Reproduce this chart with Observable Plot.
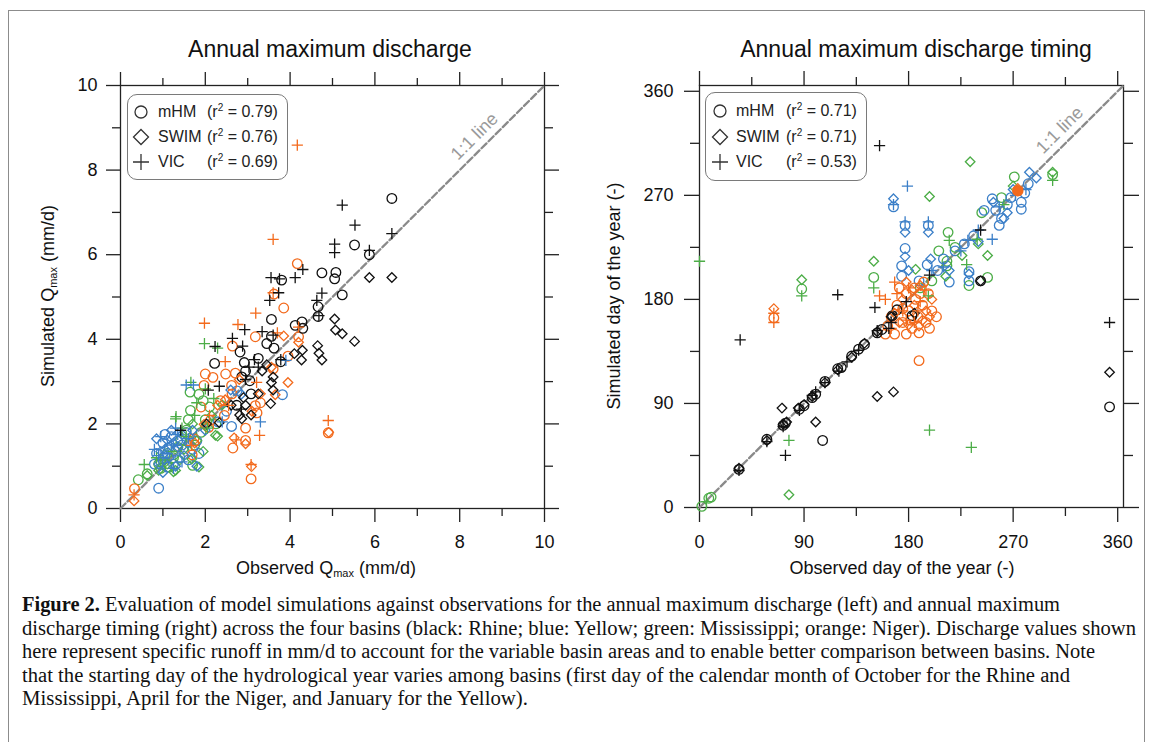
<!DOCTYPE html>
<html>
<head>
<meta charset="utf-8">
<script src="https://cdn.jsdelivr.net/npm/d3@7"></script>
<script src="https://cdn.jsdelivr.net/npm/@observablehq/plot@0.6"></script>
<style>
  body { margin: 0; background: #fff; }
  #wrap { position: relative; width: 1153px; height: 742px; overflow: hidden; font-family: "Liberation Sans", Arial, sans-serif; color: #111; }
  #border { position: absolute; left: 8px; top: 10px; width: 1137px; height: 760px; border: 1.5px solid #8c8c8c; box-sizing: border-box; }
  .panel { position: absolute; top: 0; }
  .title { position: absolute; font-size: 23px; white-space: nowrap; transform: translate(-50%, -50%); }
  .axlab { position: absolute; font-size: 18px; white-space: nowrap; transform: translate(-50%, -50%); }
  .axlab.v { transform: translate(-50%, -50%) rotate(-90deg); }
  .axlab sub { font-size: 11px; vertical-align: -3px; }
  .legend { position: absolute; border: 1.3px solid #7a7a7a; border-radius: 10px; background: #fff; box-sizing: border-box; }
  .legend .sym { position: absolute; }
  .legend .t { position: absolute; font-size: 16px; white-space: nowrap; transform: translateY(-50%); color: #222; }
  .legend sup { font-size: 10px; vertical-align: 6px; line-height: 0; }
  #cap { position: absolute; left: 0; top: 0; }
</style>
</head>
<body>
<div id="wrap">
  <div id="border"></div>
</div>
<script>
// ---------------- Data: Annual maximum discharge (mm/d), pairs [observed, simulated] ----------------
const qRhineMhm = [[6.40,7.33],[5.52,6.23],[5.87,6.00],[4.75,5.57],[5.08,5.58],[5.05,5.43],[5.23,5.05],[4.66,4.77],[4.66,4.54],[3.80,5.40],[3.56,4.47],[4.28,4.41],[4.30,4.26],[4.12,4.33],[3.56,4.07],[3.62,3.79],[2.22,3.43],[2.82,3.70],[2.92,3.45],[3.05,3.02],[2.86,3.11],[3.08,2.71],[3.78,3.47],[2.74,2.44],[3.25,3.55],[2.95,3.25],[3.45,3.90]];
const qRhineSwim = [[6.40,5.46],[5.87,5.46],[5.05,4.48],[5.07,4.22],[5.23,4.13],[5.52,3.95],[4.65,3.85],[4.68,3.67],[4.75,3.51],[4.29,3.74],[4.27,3.51],[4.10,3.66],[3.60,3.11],[3.56,2.98],[3.60,2.80],[3.54,2.48],[3.25,2.71],[3.34,3.25],[2.90,2.62],[2.95,2.44],[2.81,2.21],[3.08,2.21],[2.86,2.12],[2.33,2.03],[2.03,2.00],[2.61,2.44],[3.45,3.40]];
const qRhineVic = [[5.23,7.17],[5.53,6.70],[6.40,6.50],[5.05,6.25],[5.05,6.05],[5.87,6.10],[4.30,5.65],[4.12,5.46],[3.55,5.46],[3.75,5.43],[3.73,5.10],[3.52,4.92],[4.75,5.09],[4.63,4.92],[2.93,4.23],[3.34,4.18],[2.64,4.02],[2.23,3.83],[2.88,3.84],[3.16,3.52],[3.03,3.34],[2.07,2.80],[2.33,2.89],[3.78,3.52],[1.42,1.85],[3.25,3.34],[4.68,4.56],[2.95,3.05],[2.85,2.35],[3.60,4.10]];

const qYellowMhm = [[0.90,0.48],[0.85,1.30],[0.95,1.10],[1.00,1.55],[1.05,1.25],[1.10,0.98],[1.15,1.45],[1.20,1.70],[1.25,1.05],[1.30,1.35],[1.35,1.60],[1.40,1.20],[1.45,1.50],[1.55,1.80],[1.60,1.15],[1.70,1.40],[1.80,1.60],[1.05,1.75],[2.62,1.94],[2.75,2.78],[3.82,2.69],[2.30,2.05],[1.85,1.30],[0.80,1.05],[2.50,2.30]];
const qYellowSwim = [[0.85,1.65],[0.95,1.35],[1.00,0.85],[1.10,1.62],[1.15,1.20],[1.20,1.85],[1.30,1.00],[1.35,1.45],[1.45,1.75],[1.50,1.25],[1.60,1.55],[1.70,1.85],[0.90,1.05],[1.25,1.55],[2.00,1.85],[2.60,2.80],[2.85,2.70],[1.80,1.00],[1.05,1.40]];
const qYellowVic = [[1.55,2.92],[1.72,2.92],[0.80,1.40],[0.95,1.70],[1.10,1.30],[1.20,1.50],[1.35,1.75],[1.45,1.10],[1.00,1.20],[1.60,1.65],[1.30,1.90],[3.30,2.05],[3.90,3.50],[2.40,2.05],[0.90,1.25],[1.25,0.95]];

const qMissMhm = [[0.42,0.68],[0.63,0.82],[0.90,1.05],[1.02,1.10],[0.95,0.95],[1.10,1.30],[1.25,1.20],[1.42,1.62],[1.55,1.85],[1.65,2.32],[1.64,2.75],[1.85,2.70],[1.70,1.02],[1.75,1.50],[1.90,1.80],[2.00,2.10],[2.10,2.40],[2.25,2.00],[1.35,1.45],[1.60,2.10],[1.95,2.55],[1.15,0.98]];
const qMissSwim = [[0.63,0.78],[0.90,0.90],[1.25,0.87],[1.30,0.90],[1.68,1.17],[1.85,0.98],[2.29,1.71],[2.24,1.73],[1.50,1.40],[1.80,1.60],[2.00,1.95],[1.40,1.15],[1.10,1.05],[2.15,2.20],[1.70,2.00],[2.40,2.45],[1.95,1.35]];
const qMissVic = [[0.56,1.04],[1.31,2.17],[1.98,3.90],[2.29,3.79],[1.66,2.98],[2.00,2.83],[1.30,2.12],[1.80,2.50],[1.55,1.70],[1.20,1.35],[0.95,1.15],[2.20,2.60],[1.75,2.20],[1.45,1.90],[2.05,1.90],[0.85,1.20]];

const qNigerMhm = [[4.17,5.79],[3.85,4.74],[3.62,5.07],[3.18,4.06],[2.64,3.84],[2.00,3.18],[2.18,3.10],[2.48,3.18],[2.71,3.20],[1.97,2.91],[2.62,2.91],[2.63,2.71],[2.36,2.55],[3.18,2.43],[3.22,2.26],[2.95,1.90],[2.65,1.43],[2.95,1.61],[3.08,0.70],[4.90,1.79],[0.33,0.47],[4.20,4.06],[1.73,1.65],[1.69,1.27],[2.12,2.08],[2.08,1.92],[3.60,3.30],[3.95,3.60],[3.30,2.50],[2.45,2.20],[1.90,2.40]];
const qNigerSwim = [[3.85,4.08],[3.95,2.98],[3.65,2.69],[3.30,2.71],[3.09,0.99],[2.95,1.53],[2.68,1.67],[0.32,0.18],[4.91,1.80],[4.20,3.93],[1.97,1.99],[2.47,2.57],[3.56,3.34],[2.29,2.44],[3.10,2.30],[2.80,3.05],[1.75,1.55]];
const qNigerVic = [[4.17,8.59],[3.60,6.36],[3.60,5.10],[3.19,4.62],[1.98,4.38],[2.77,4.35],[3.28,1.73],[4.90,2.08],[2.47,3.47],[2.55,2.44],[2.73,1.62],[3.08,1.04],[0.32,0.32],[4.20,4.29],[1.68,1.49],[3.21,2.98],[2.10,2.20],[3.70,4.15]];

// ---------------- Data: Annual maximum discharge timing (day of year), pairs [observed, simulated] ----------------
const tRhineMhm = [[34,33],[58,59],[72,71],[74,73],[86,85],[90,88],[97,95],[100,98],[108,109],[119,120],[122,121],[131,131],[137,137],[142,141],[153,151],[157,154],[166,166],[183,166],[242,196],[353,87],[106,58],[170,171]];
const tRhineSwim = [[34,34],[58,58],[71,86],[72,72],[85,86],[90,89],[97,96],[100,74],[108,108],[119,119],[131,130],[142,142],[153,96],[153,152],[167,100],[353,117],[165,165],[242,196],[185,168],[75,74]];
const tRhineVic = [[155,313],[119,184],[35,145],[74,45],[151,173],[353,160],[242,240],[198,201],[165,160],[34,32],[58,57],[72,70],[86,84],[97,97],[108,108],[120,118],[137,136],[153,153],[178,178],[163,155],[100,100],[127,126]];

const tYellowMhm = [[167,260],[177,244],[197,244],[177,224],[174,209],[189,196],[215,195],[232,196],[252,267],[255,257],[258,244],[277,264],[277,258],[245,257],[196,210],[205,205],[210,215],[220,222],[228,228],[236,235],[265,262],[268,268],[280,272],[283,280],[260,250],[174,200],[232,204]];
const tYellowSwim = [[167,267],[177,238],[197,238],[177,217],[199,215],[232,202],[284,290],[265,255],[253,264],[262,250],[240,230],[215,205],[180,205],[270,275],[290,285]];
const tYellowVic = [[179,278],[177,247],[197,247],[167,262],[252,232],[231,231],[240,240],[200,205],[225,222],[258,260],[272,270],[210,208],[281,275]];

const tMissMhm = [[2,1],[8,8],[10,9],[88,189],[150,199],[214,238],[206,222],[213,213],[213,209],[248,199],[232,192],[243,255],[271,286],[304,288],[220,225],[260,268],[190,190],[200,196]];
const tMissSwim = [[77,11],[88,197],[150,213],[198,269],[233,299],[248,218],[186,206],[304,290],[226,218],[212,200],[240,228],[270,278]];
const tMissVic = [[0,213],[77,58],[88,183],[150,190],[197,183],[198,67],[234,52],[215,231],[239,232],[304,283],[6,5],[230,210],[262,262]];

const tNigerMhm = [[64,164],[189,127],[189,151],[162,157],[165,165],[170,175],[175,160],[178,185],[180,170],[183,155],[185,190],[188,165],[192,175],[195,160],[197,185],[200,170],[168,150],[172,190],[178,150],[186,180],[193,195],[198,155],[175,172],[182,162],[190,185],[160,150],[204,165]];
const tNigerMhmFilled = [[274,274]];
const tNigerSwim = [[64,172],[189,157],[168,168],[175,180],[180,158],[185,175],[190,192],[195,170],[200,180],[172,160],[183,188],[192,162],[178,195],[198,165],[274,276]];
const tNigerVic = [[64,160],[160,180],[165,155],[170,185],[175,170],[180,190],[185,160],[190,178],[195,188],[178,162],[168,195],[188,170],[155,183],[64,168]];

// ---------------- Labels ----------------
const basins = ["Mississippi", "Yellow", "Niger", "Rhine"];
const basinColors = ["#4cad47", "#3b7fc8", "#f36a1c", "#111111"];
const models = ["mHM", "SWIM", "VIC"];
const modelSymbols = ["circle", "diamond2", "plus"];
const modelRadius = [4.8, 4.3, 3.7];
const qR2 = ["0.79", "0.76", "0.69"];
const tR2 = ["0.71", "0.71", "0.53"];
const qTicksMajor = [0, 2, 4, 6, 8, 10];
const qTicksMinor = [1, 3, 5, 7, 9];
const tTicksMajor = [0, 90, 180, 270, 360];
const tTicksMinor = [45, 135, 225, 315];

function rows(pairs, basin, model) { return pairs.map(([obs, sim]) => ({obs, sim, basin, model})); }

const qData = [
  ...rows(qMissMhm, "Mississippi", "mHM"), ...rows(qMissSwim, "Mississippi", "SWIM"), ...rows(qMissVic, "Mississippi", "VIC"),
  ...rows(qYellowMhm, "Yellow", "mHM"), ...rows(qYellowSwim, "Yellow", "SWIM"), ...rows(qYellowVic, "Yellow", "VIC"),
  ...rows(qNigerMhm, "Niger", "mHM"), ...rows(qNigerSwim, "Niger", "SWIM"), ...rows(qNigerVic, "Niger", "VIC"),
  ...rows(qRhineMhm, "Rhine", "mHM"), ...rows(qRhineSwim, "Rhine", "SWIM"), ...rows(qRhineVic, "Rhine", "VIC")
];
const tData = [
  ...rows(tMissMhm, "Mississippi", "mHM"), ...rows(tMissSwim, "Mississippi", "SWIM"), ...rows(tMissVic, "Mississippi", "VIC"),
  ...rows(tYellowMhm, "Yellow", "mHM"), ...rows(tYellowSwim, "Yellow", "SWIM"), ...rows(tYellowVic, "Yellow", "VIC"),
  ...rows(tNigerMhm, "Niger", "mHM"), ...rows(tNigerSwim, "Niger", "SWIM"), ...rows(tNigerVic, "Niger", "VIC"),
  ...rows(tRhineMhm, "Rhine", "mHM"), ...rows(tRhineSwim, "Rhine", "SWIM"), ...rows(tRhineVic, "Rhine", "VIC")
];
const tFilled = rows(tNigerMhmFilled, "Niger", "mHM");

const wrap = document.getElementById("wrap");

function makePanel(cfg) {
  const {data, filled, dmax, major, minor, left, width, mL, mR, mT, mB, tickMaj, tickMin, padY, labelAt} = cfg;
  const tickStyle = {stroke: "#222", strokeWidth: 1.3, label: null};
  const empty = () => "";
  const marks = [
    Plot.frame({stroke: "#222", strokeWidth: 1.3}),
    Plot.axisX({...tickStyle, anchor: "bottom", ticks: major, tickSize: tickMaj, tickPadding: 13, fontSize: 18}),
    Plot.axisX({...tickStyle, anchor: "bottom", ticks: minor, tickSize: tickMin, tickFormat: empty}),
    Plot.axisX({...tickStyle, anchor: "top", ticks: major, tickSize: tickMaj, tickFormat: empty}),
    Plot.axisX({...tickStyle, anchor: "top", ticks: minor, tickSize: tickMin, tickFormat: empty}),
    Plot.axisY({...tickStyle, anchor: "left", ticks: major, tickSize: tickMaj, tickPadding: padY, fontSize: 18}),
    Plot.axisY({...tickStyle, anchor: "left", ticks: minor, tickSize: tickMin, tickFormat: empty}),
    Plot.axisY({...tickStyle, anchor: "right", ticks: major, tickSize: tickMaj, tickFormat: empty}),
    Plot.axisY({...tickStyle, anchor: "right", ticks: minor, tickSize: tickMin, tickFormat: empty}),
    Plot.line([0, dmax], {x: d => d, y: d => d, stroke: "#8a8a8a", strokeWidth: 2.3, strokeDasharray: "7,3"}),
    Plot.text([labelAt], {x: d => d, y: d => d, text: () => "1:1 line", rotate: -45, dy: -19, fill: "#9a9a9a", fontSize: 18, fontFamily: "'Liberation Sans', Arial, sans-serif"})
  ];
  models.forEach((m, i) => {
    marks.push(Plot.dot(data.filter(d => d.model === m), {
      x: "obs", y: "sim", stroke: "basin", symbol: () => m, r: modelRadius[i], strokeWidth: 1.3, fill: "none"
    }));
  });
  if (filled) marks.push(Plot.dot(filled, {x: "obs", y: "sim", fill: "basin", stroke: "basin", r: 5, symbol: () => "mHM"}));
  const svg = Plot.plot({
    width, height: 600,
    marginLeft: mL, marginRight: mR, marginTop: mT, marginBottom: mB,
    x: {domain: [0, dmax]},
    y: {domain: [0, dmax]},
    color: {domain: basins, range: basinColors},
    symbol: {domain: models, range: modelSymbols},
    style: {background: "transparent", fontFamily: "'Liberation Sans', Arial, sans-serif", fontSize: "18px", color: "#111", overflow: "visible"},
    marks
  });
  svg.classList.add("panel");
  svg.style.left = left + "px";
  svg.style.position = "absolute";
  svg.style.top = "0px";
  wrap.appendChild(svg);
}

makePanel({data: qData, dmax: 10, major: qTicksMajor, minor: qTicksMinor, left: 0, width: 580, mL: 120, mR: 36, mT: 85, mB: 92, tickMaj: 14, tickMin: 8, padY: 9, labelAt: 8.35});
makePanel({data: tData, filled: tFilled, dmax: 365, major: tTicksMajor, minor: tTicksMinor, left: 580, width: 573, mL: 119, mR: 30, mT: 85, mB: 93, tickMaj: 15, tickMin: 9, padY: 11, labelAt: 310});

// ---------------- Titles and axis labels ----------------
function addDiv(cls, html, x, y) {
  const d = document.createElement("div");
  d.className = cls; d.innerHTML = html;
  d.style.left = x + "px"; d.style.top = y + "px";
  wrap.appendChild(d);
  return d;
}
addDiv("title", "Annual maximum discharge", 330, 49);
addDiv("title", "Annual maximum discharge timing", 916, 49);
addDiv("axlab", "Observed Q<sub>max</sub> (mm/d)", 326, 568);
addDiv("axlab v", "Simulated Q<sub>max</sub> (mm/d)", 48, 296);
addDiv("axlab", "Observed day of the year (-)", 902, 568);
addDiv("axlab v", "Simulated day of the year (-)", 614, 296);

// ---------------- Legends ----------------
const symSvg = {
  circle: '<circle cx="9" cy="9" r="6" fill="none" stroke="#333" stroke-width="1.3"/>',
  diamond2: '<path d="M9,1.5L16.5,9L9,16.5L1.5,9Z" fill="none" stroke="#333" stroke-width="1.3"/>',
  plus: '<path d="M1,9H17M9,1V17" fill="none" stroke="#333" stroke-width="1.3"/>'
};
function addLegend(x, y, w, h, r2s, rowY, symX, txtX, rX) {
  const box = document.createElement("div");
  box.className = "legend";
  Object.assign(box.style, {left: x + "px", top: y + "px", width: w + "px", height: h + "px"});
  models.forEach((m, i) => {
    const s = document.createElement("div");
    s.className = "sym";
    s.innerHTML = `<svg width="18" height="18">${symSvg[modelSymbols[i]]}</svg>`;
    Object.assign(s.style, {left: (symX - 9) + "px", top: (rowY[i] - 9) + "px", width: "18px", height: "18px"});
    box.appendChild(s);
    const t = document.createElement("div");
    t.className = "t"; t.textContent = m;
    Object.assign(t.style, {left: txtX + "px", top: rowY[i] + "px"});
    box.appendChild(t);
    const r = document.createElement("div");
    r.className = "t"; r.innerHTML = `(r<sup>2</sup> = ${r2s[i]})`;
    Object.assign(r.style, {left: rX + "px", top: rowY[i] + "px"});
    box.appendChild(r);
  });
  wrap.appendChild(box);
}
addLegend(127, 94, 161, 86, qR2, [17, 42, 67], 13, 30, 79);
addLegend(705, 92, 162, 89, tR2, [18, 44, 69], 14, 30, 80);

// ---------------- Caption ----------------
const capLines = [
  ["Figure 2.", " Evaluation of model simulations against observations for the annual maximum discharge (left) and annual maximum", 1038],
  ["", "discharge timing (right) across the four basins (black: Rhine; blue: Yellow; green: Mississippi; orange: Niger). Discharge values shown", 1114],
  ["", "here represent specific runoff in mm/d to account for the variable basin areas and to enable better comparison between basins. Note", 1073],
  ["", "that the starting day of the hydrological year varies among basins (first day of the calendar month of October for the Rhine and", 1048],
  ["", "Mississippi, April for the Niger, and January for the Yellow).", 506]
];
const ns = "http://www.w3.org/2000/svg";
const cap = document.createElementNS(ns, "svg");
cap.setAttribute("id", "cap"); cap.setAttribute("width", 1153); cap.setAttribute("height", 742);
capLines.forEach(([bold, rest, len], i) => {
  const t = document.createElementNS(ns, "text");
  t.setAttribute("x", 22); t.setAttribute("y", 611 + i * 23.5);
  t.setAttribute("font-family", "'Liberation Serif', 'DejaVu Serif', serif");
  t.setAttribute("font-size", "20");
  t.setAttribute("fill", "#111");
  t.setAttribute("textLength", len);
  t.setAttribute("lengthAdjust", "spacingAndGlyphs");
  if (bold) {
    const b = document.createElementNS(ns, "tspan");
    b.setAttribute("font-weight", "bold"); b.textContent = bold; t.appendChild(b);
  }
  const r = document.createElementNS(ns, "tspan"); r.textContent = rest; t.appendChild(r);
  cap.appendChild(t);
});
wrap.appendChild(cap);
</script>
</body>
</html>
